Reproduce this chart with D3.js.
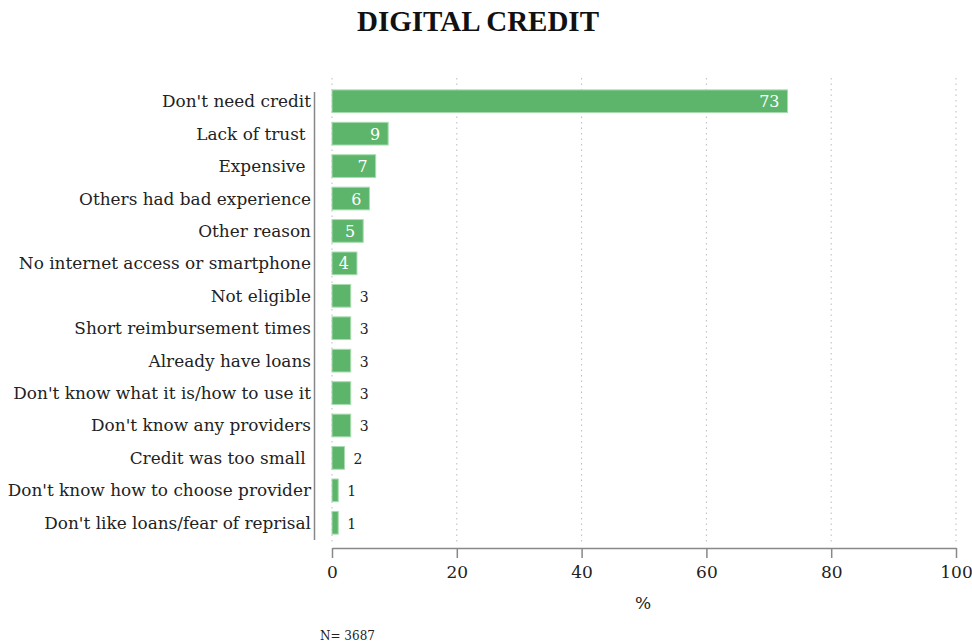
<!DOCTYPE html>
<html>
<head>
<meta charset="utf-8">
<script src="https://cdn.jsdelivr.net/npm/d3@7"></script>
<style>
  html, body { margin: 0; padding: 0; background: #fff; }
  svg { display: block; }
</style>
</head>
<body>
<svg id="chart" width="972" height="642"></svg>
<script>
// Reasons for not using digital credit (% of respondents)
const categories = [
  "Don't need credit",
  "Lack of trust ",
  "Expensive ",
  "Others had bad experience",
  "Other reason",
  "No internet access or smartphone",
  "Not eligible",
  "Short reimbursement times",
  "Already have loans",
  "Don't know what it is/how to use it",
  "Don't know any providers",
  "Credit was too small ",
  "Don't know how to choose provider",
  "Don't like loans/fear of reprisal"
];
const values = [73, 9, 7, 6, 5, 4, 3, 3, 3, 3, 3, 2, 1, 1];
const xTicks = [0, 20, 40, 60, 80, 100];
const titleText = "DIGITAL CREDIT";
const axisTitle = "%";
const noteText = "N= 3687";

const svg = d3.select("#chart");
const serif = "'DejaVu Serif', 'Liberation Serif', serif";

const x = d3.scaleLinear().domain([0, 100]).range([332, 956]);
const y = d3.scaleBand().domain(categories).range([86, 538]).paddingInner(0.3).paddingOuter(0.12);

// title
svg.append("text")
  .attr("x", 478).attr("y", 31)
  .attr("text-anchor", "middle")
  .attr("font-family", "'Liberation Serif', serif")
  .attr("font-weight", "bold")
  .attr("font-size", 29)
  .attr("fill", "#111")
  .text(titleText);

// dotted vertical gridlines
svg.append("g").selectAll("line").data(xTicks).join("line")
  .attr("x1", d => x(d)).attr("x2", d => x(d))
  .attr("y1", 78).attr("y2", 545)
  .attr("stroke", "#bbb").attr("stroke-width", 1)
  .attr("stroke-dasharray", "1.5,4");

// bars
svg.append("g").selectAll("rect").data(values).join("rect")
  .attr("x", x(0))
  .attr("y", (d, i) => y(categories[i]))
  .attr("width", d => x(d) - x(0))
  .attr("height", y.bandwidth())
  .attr("fill", "#5cb56b")
  .attr("stroke", "#a8dcb0")
  .attr("stroke-width", 1);

// value labels: inside in white for wide bars, outside in dark for narrow ones
svg.append("g").selectAll("text").data(values).join("text")
  .attr("x", d => d >= 4 ? x(d) - 8 : x(d) + 9)
  .attr("y", (d, i) => y(categories[i]) + y.bandwidth() / 2 + 6)
  .attr("text-anchor", d => d >= 4 ? "end" : "start")
  .attr("font-family", serif)
  .attr("font-size", d => d >= 4 ? 16 : 14)
  .attr("fill", d => d >= 4 ? "#fff" : "#222")
  .text(d => d);

// category labels
svg.append("g").selectAll("text").data(categories).join("text")
  .attr("x", 311)
  .attr("y", d => y(d) + y.bandwidth() / 2 + 6)
  .attr("text-anchor", "end")
  .attr("font-family", serif)
  .attr("font-size", 16.9)
  .attr("fill", "#222")
  .attr("xml:space", "preserve")
  .style("white-space", "pre")
  .text(d => d);

// y axis line
svg.append("line")
  .attr("x1", 314.5).attr("x2", 314.5)
  .attr("y1", 92).attr("y2", 540)
  .attr("stroke", "#888").attr("stroke-width", 1.5);

// x axis
const xAxis = svg.append("g")
  .attr("transform", "translate(0,548)")
  .call(d3.axisBottom(x).tickValues(xTicks).tickSize(10).tickPadding(8).tickSizeOuter(0));
xAxis.select(".domain").attr("stroke", "#888").attr("stroke-width", 1.5);
xAxis.selectAll(".tick line").attr("stroke", "#888").attr("stroke-width", 1.5);
xAxis.selectAll(".tick text")
  .attr("font-family", serif)
  .attr("font-size", 17)
  .attr("fill", "#222");

// axis title
svg.append("text")
  .attr("x", 643).attr("y", 609)
  .attr("text-anchor", "middle")
  .attr("font-family", serif)
  .attr("font-size", 17)
  .attr("fill", "#222")
  .text(axisTitle);

// sample size note
svg.append("text")
  .attr("x", 320).attr("y", 640)
  .attr("font-family", serif)
  .attr("font-size", 12)
  .attr("fill", "#222")
  .text(noteText);
</script>
</body>
</html>
